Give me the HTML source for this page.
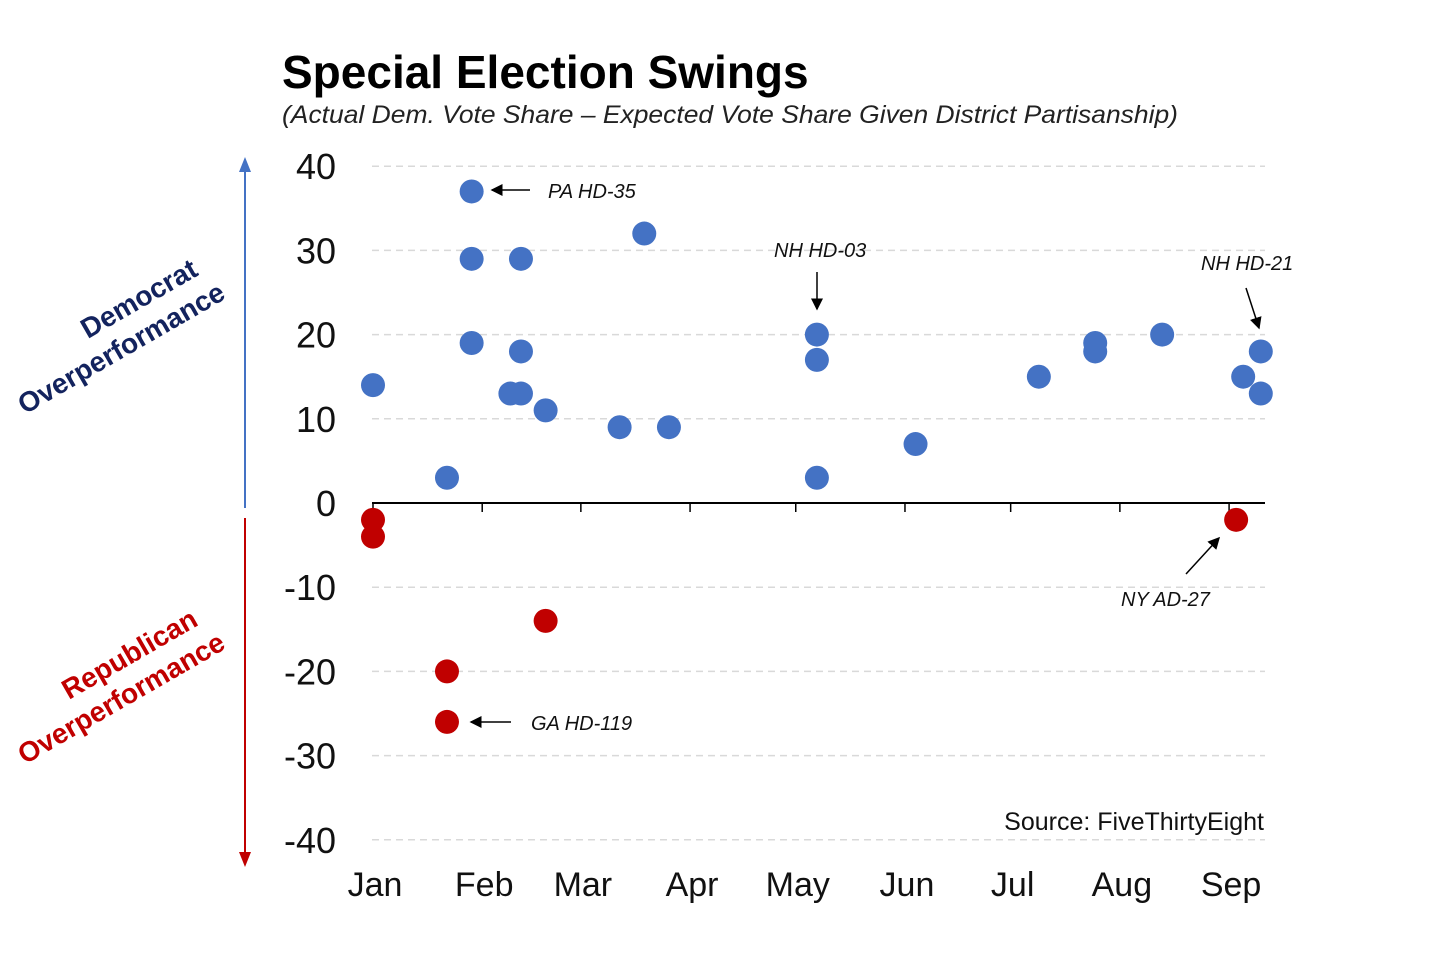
<!DOCTYPE html>
<html><head><meta charset="utf-8"><style>
body{margin:0;background:#fff;width:1456px;height:967px;overflow:hidden}
svg text{font-family:"Liberation Sans",sans-serif}
</style></head><body>
<svg id="chart" width="1456" height="967" xmlns="http://www.w3.org/2000/svg">
<defs>
<marker id="ah" markerWidth="8" markerHeight="8" refX="7" refY="4" orient="auto"><path d="M0,0 L8,4 L0,8 z" fill="#000"/></marker>
</defs>
<text x="282" y="88" font-size="46" font-weight="bold" fill="#000">Special Election Swings</text>
<text x="282" y="123" font-size="25" font-style="italic" fill="#222" textLength="896" lengthAdjust="spacingAndGlyphs">(Actual Dem. Vote Share – Expected Vote Share Given District Partisanship)</text>
<g id="grid"></g><g id="axes"></g><g id="marks"></g>
<line x1="245" y1="168" x2="245" y2="508" stroke="#4472c4" stroke-width="2"/>
<path d="M239,172 L245,157 L251,172 z" fill="#4472c4"/>
<line x1="245" y1="518" x2="245" y2="855" stroke="#c00000" stroke-width="2"/>
<path d="M239,852 L245,867 L251,852 z" fill="#c00000"/>
<g transform="translate(227,298) rotate(-30)">
<text x="-12" y="-34" text-anchor="end" font-size="28" font-weight="bold" fill="#13235e">Democrat</text>
<text x="0" y="0" text-anchor="end" font-size="28" font-weight="bold" fill="#13235e">Overperformance</text></g>
<g transform="translate(227,648) rotate(-30)">
<text x="-12" y="-34" text-anchor="end" font-size="28" font-weight="bold" fill="#c00000">Republican</text>
<text x="0" y="0" text-anchor="end" font-size="28" font-weight="bold" fill="#c00000">Overperformance</text></g>
<text x="1264" y="830" text-anchor="end" font-size="25" fill="#111">Source: FiveThirtyEight</text>
<g font-size="20" font-style="italic" fill="#111">
<text x="548" y="198">PA HD-35</text>
<line x1="530" y1="190" x2="492" y2="190" stroke="#000" stroke-width="1.5" marker-end="url(#ah)"/>
<text x="774" y="257">NH HD-03</text>
<line x1="817" y1="272" x2="817" y2="309" stroke="#000" stroke-width="1.5" marker-end="url(#ah)"/>
<text x="1201" y="270">NH HD-21</text>
<line x1="1246" y1="288" x2="1259" y2="328" stroke="#000" stroke-width="1.5" marker-end="url(#ah)"/>
<text x="1121" y="606">NY AD-27</text>
<line x1="1186" y1="574" x2="1219" y2="538" stroke="#000" stroke-width="1.5" marker-end="url(#ah)"/>
<text x="531" y="730">GA HD-119</text>
<line x1="511" y1="722" x2="471" y2="722" stroke="#000" stroke-width="1.5" marker-end="url(#ah)"/>
</g>
</svg>
<script>
const yTicks=[40,30,20,10,0,-10,-20,-30,-40];
const months=["Jan","Feb","Mar","Apr","May","Jun","Jul","Aug","Sep"];
const monthStartDay=[0,31,59,90,120,151,181,212,243];
const demDays=[0,21,28,28,28,39,42,42,42,49,70,77,84,126,126,126,154,189,205,205,224,247,252,252];
const demValues=[14,3,37,29,19,13,13,18,29,11,9,32,9,20,17,3,7,15,19,18,20,15,18,13];
const repDays=[0,0,21,21,49,245];
const repValues=[-2,-4,-20,-26,-14,-2];
const NS="http://www.w3.org/2000/svg";
const xS=d=>373+d*3.523;
const yS=v=>503-v*8.42;
function mk(t,a,p){const e=document.createElementNS(NS,t);for(const k in a)e.setAttribute(k,a[k]);p.appendChild(e);return e;}
const grid=document.getElementById('grid'),axes=document.getElementById('axes'),marks=document.getElementById('marks');
yTicks.forEach(v=>{
 if(v!==0){const l=mk('line',{x1:372,x2:1265,y1:yS(v),y2:yS(v),stroke:'#d9d9d9','stroke-width':1.5,'stroke-dasharray':'7,5'},grid);
 
 }
 const t=mk('text',{x:336,y:yS(v)+13,'text-anchor':'end','font-size':36,fill:'#111'},axes);t.textContent=v;
 
 
});
const z=mk('line',{x1:372,x2:1265,y1:yS(0),y2:yS(0),stroke:'#000','stroke-width':2},axes);


months.forEach((m,i)=>{
 const x=xS(monthStartDay[i]);
 mk('line',{x1:x,x2:x,y1:yS(0),y2:yS(0)+9,stroke:'#000','stroke-width':1.5},axes);
 const t=mk('text',{x:x+2,y:896,'text-anchor':'middle','font-size':34,fill:'#111'},axes);t.textContent=m;
 
 
});
demDays.forEach((d,i)=>{const c=mk('circle',{cx:xS(d),cy:yS(demValues[i]),r:12,fill:'#4472c4'},marks);
 
 });
repDays.forEach((d,i)=>{const c=mk('circle',{cx:xS(d),cy:yS(repValues[i]),r:12,fill:'#c00000'},marks);
 
 });
</script>
</body></html>
